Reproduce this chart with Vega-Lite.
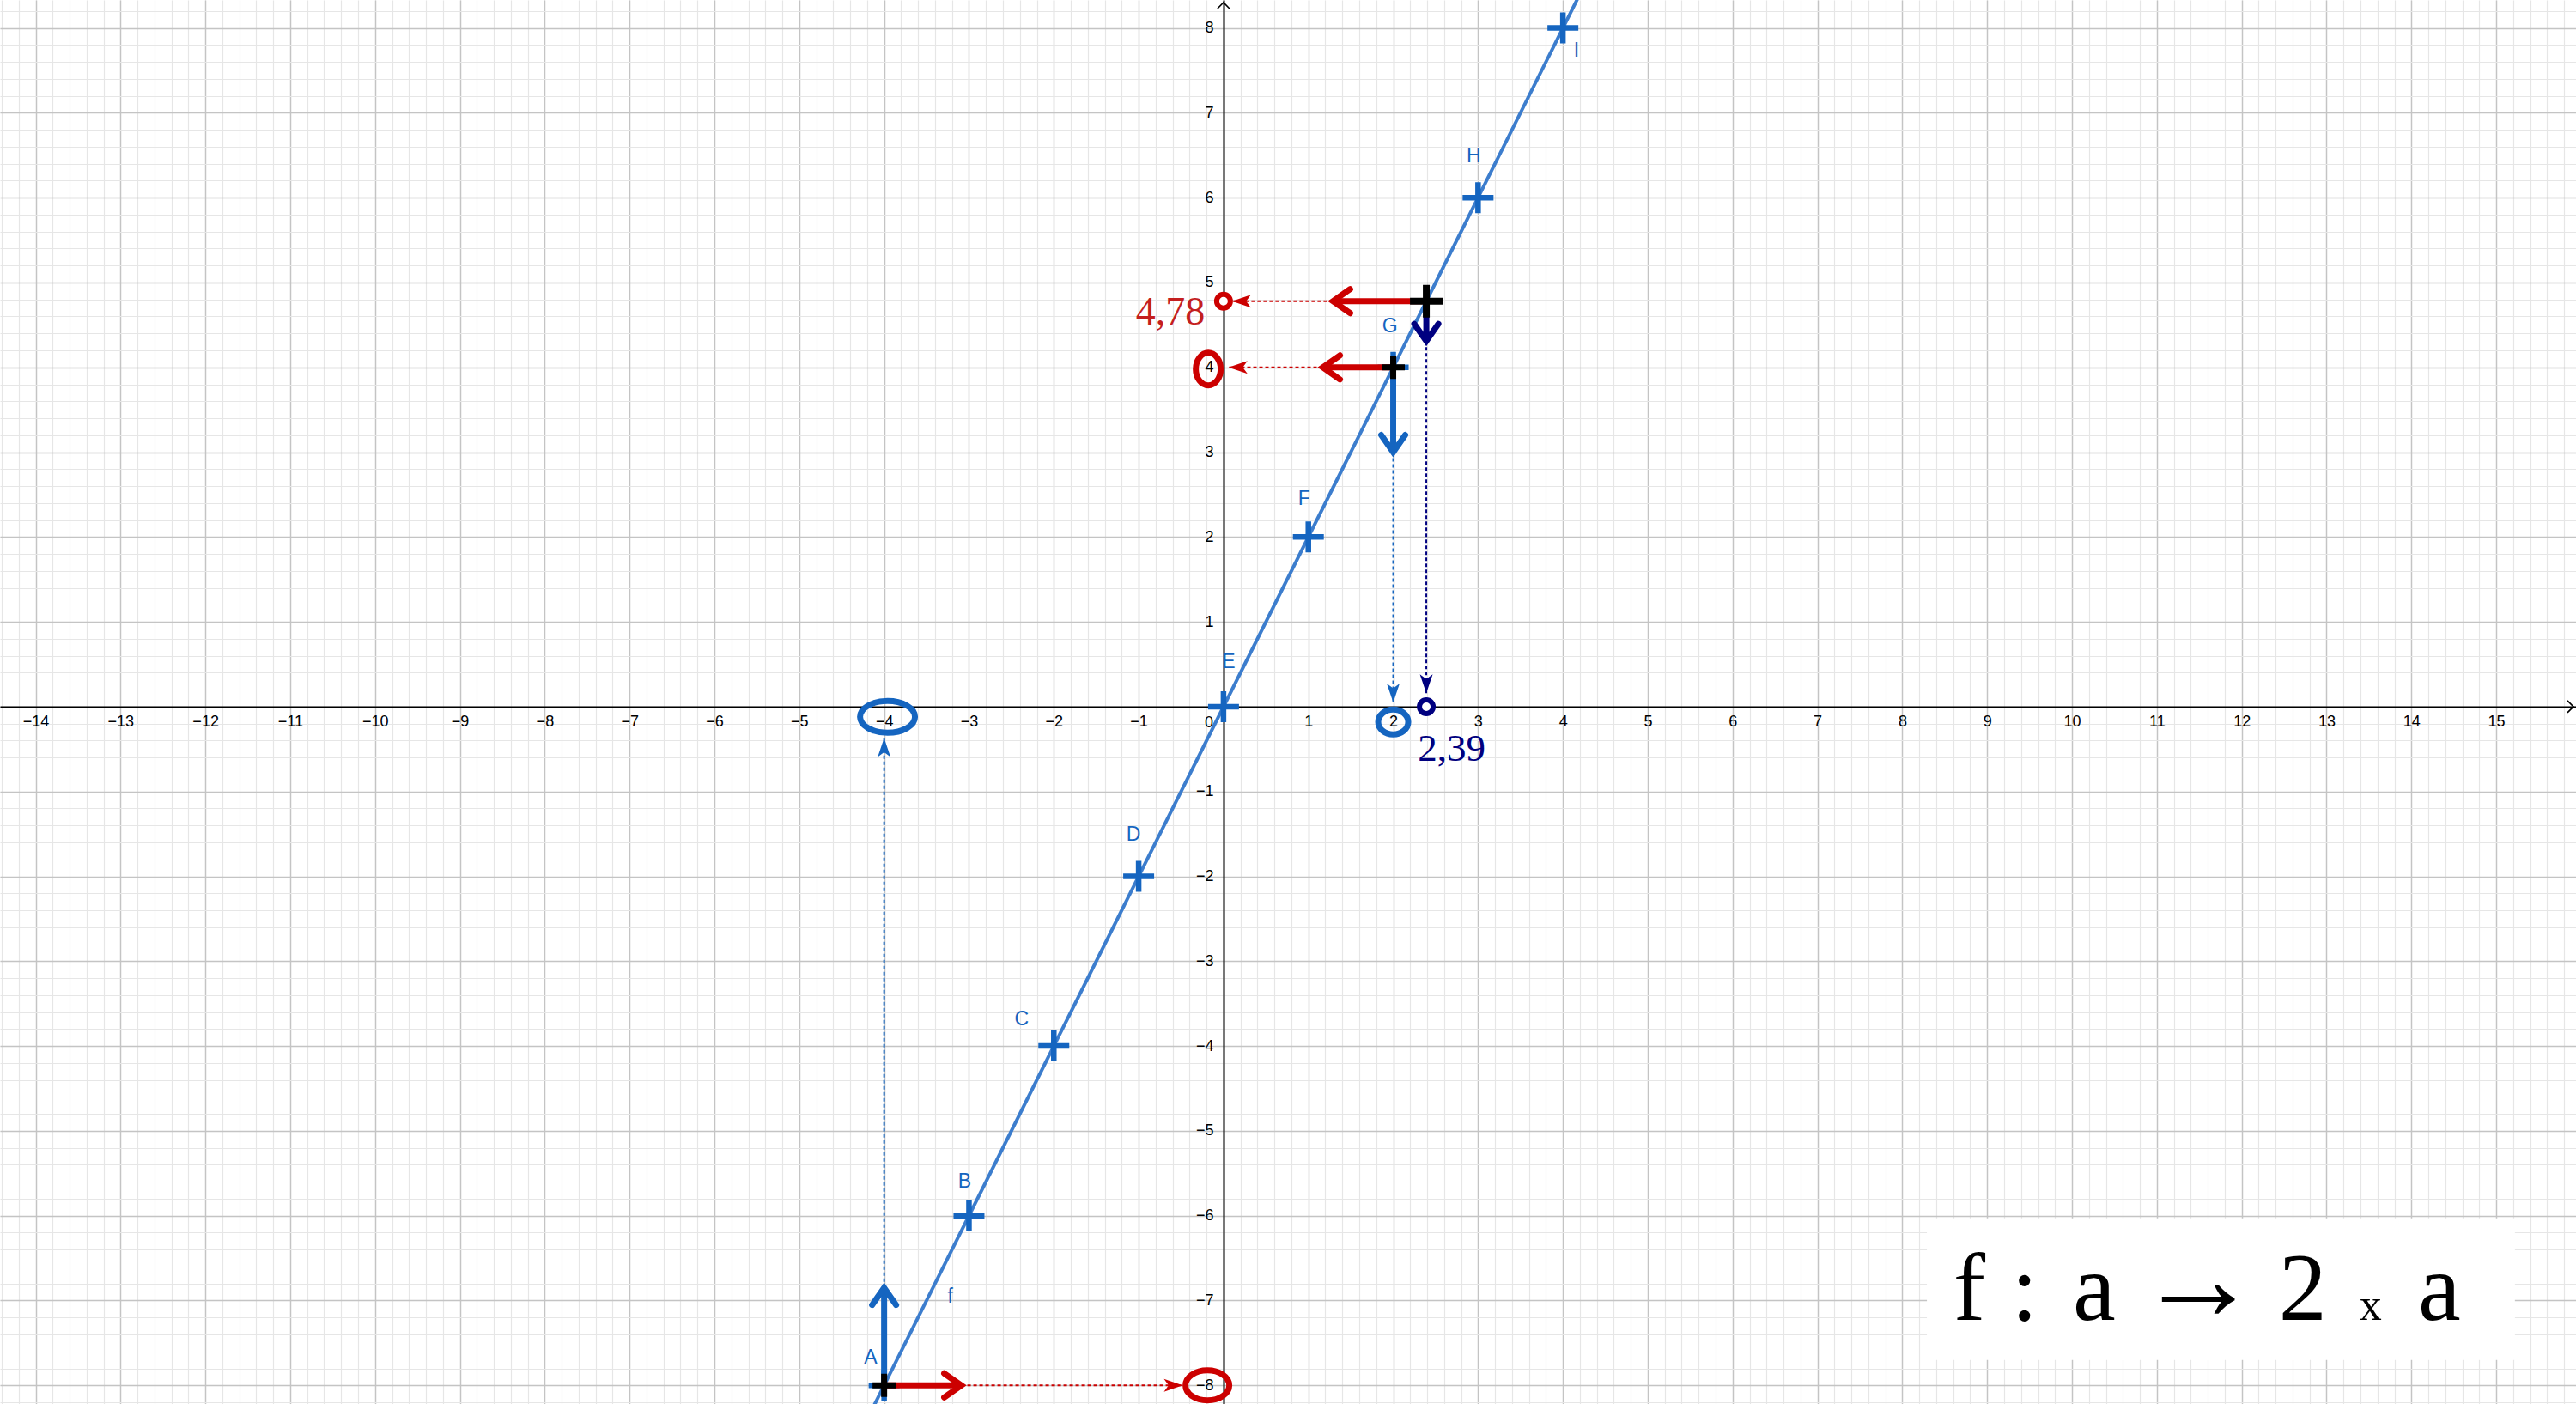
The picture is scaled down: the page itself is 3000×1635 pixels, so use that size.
{
  "$schema": "https://vega.github.io/schema/vega-lite/v6.json",
  "width": 3000,
  "height": 1635,
  "autosize": {"type": "none"},
  "padding": 0,
  "background": "white",
  "config": {"view": {"stroke": null}},
  "datasets": {
    "box": [{"x": 8.29, "x2": 15.22, "y": -6.03, "y2": -7.7}],
    "fline": [{"x": -4.3, "y": -8.6}, {"x": 4.3, "y": 8.6}],
    "axistips": [{"x": 15.91, "y": 0, "dir": "right"}, {"x": 0, "y": 8.3, "dir": "up"}],
    "origin": [{"t": "0", "x": 0, "y": 0}],
    "points": [
      {"name": "A", "x": -4, "y": -8, "lx": -4.16, "ly": -7.67},
      {"name": "B", "x": -3, "y": -6, "lx": -3.05, "ly": -5.6},
      {"name": "C", "x": -2, "y": -4, "lx": -2.38, "ly": -3.69},
      {"name": "D", "x": -1, "y": -2, "lx": -1.06, "ly": -1.51},
      {"name": "E", "x": 0, "y": 0, "lx": 0.06, "ly": 0.53},
      {"name": "F", "x": 1, "y": 2, "lx": 0.95, "ly": 2.45},
      {"name": "G", "x": 2, "y": 4, "lx": 1.96, "ly": 4.48},
      {"name": "H", "x": 3, "y": 6, "lx": 2.95, "ly": 6.49},
      {"name": "I", "x": 4, "y": 8, "lx": 4.16, "ly": 7.73}
    ],
    "flabel": [{"name": "f", "x": -3.22, "y": -6.95}],
    "dotted": [
      {"x": -4, "y": -6.85, "x2": -4, "y2": -0.37, "role": "antecedent", "dir": "up"},
      {"x": -3.09, "y": -8, "x2": -0.48, "y2": -8, "role": "image", "dir": "right"},
      {"x": 1.17, "y": 4, "x2": 0.06, "y2": 4, "role": "image", "dir": "left"},
      {"x": 2, "y": 3.0, "x2": 2, "y2": 0.05, "role": "antecedent", "dir": "down"},
      {"x": 1.29, "y": 4.78, "x2": 0.1, "y2": 4.78, "role": "image", "dir": "left"},
      {"x": 2.39, "y": 4.31, "x2": 2.39, "y2": 0.16, "role": "lecture", "dir": "down"}
    ],
    "shafts": [
      {"x": -4, "y": -8, "x2": -4, "y2": -6.85, "role": "antecedent", "dir": "up"},
      {"x": -4, "y": -8, "x2": -3.09, "y2": -8, "role": "image", "dir": "right"},
      {"x": 2, "y": 4, "x2": 1.17, "y2": 4, "role": "image", "dir": "left"},
      {"x": 2, "y": 4, "x2": 2, "y2": 3.0, "role": "antecedent", "dir": "down"},
      {"x": 2.39, "y": 4.78, "x2": 1.29, "y2": 4.78, "role": "image", "dir": "left"},
      {"x": 2.39, "y": 4.78, "x2": 2.39, "y2": 4.31, "role": "lecture", "dir": "down"}
    ],
    "marked": [{"x": -4, "y": -8}, {"x": 2, "y": 4}],
    "pointP": [{"x": 2.39, "y": 4.78}],
    "ellipses": [
      {"k": "xa", "x": -3.96, "y": -0.12, "role": "antecedent"},
      {"k": "xg", "x": 2.0, "y": -0.18, "role": "antecedent"},
      {"k": "yg", "x": -0.18, "y": 3.98, "role": "image"},
      {"k": "ya", "x": -0.19, "y": -8.0, "role": "image"}
    ],
    "rings": [
      {"x": 0, "y": 4.78, "role": "image"},
      {"x": 2.39, "y": 0, "role": "lecture"}
    ],
    "valY": [{"text": "4,78", "x": -0.22, "y": 4.5}],
    "valX": [{"text": "2,39", "x": 2.29, "y": -0.64}],
    "formulaBig": [
      {"t": "f", "x": 8.79, "y": -7.23},
      {"t": ":", "x": 9.44, "y": -7.23},
      {"t": "a", "x": 10.26, "y": -7.23},
      {"t": "2", "x": 12.72, "y": -7.23},
      {"t": "a", "x": 14.33, "y": -7.23}
    ],
    "formulaArrow": [{"t": "→", "x": 11.49, "y": -7.23}],
    "formulaSmall": [{"t": "x", "x": 13.52, "y": -7.23}]
  },
  "layer": [
    {
      "data": {"name": "box"},
      "mark": {"type": "rect", "fill": "white"},
      "encoding": {
        "x": {"field": "x", "type": "quantitative", "scale": {"domain": [-14.42, 15.94], "nice": false, "zero": false},
          "axis": {"orient": "bottom", "tickCount": 150, "grid": true, "gridColor": "#e6e6e6", "gridWidth": 1.2, "labels": false, "ticks": false, "domain": false, "title": null}},
        "x2": {"field": "x2"},
        "y": {"field": "y", "type": "quantitative", "scale": {"domain": [-8.22, 8.33], "nice": false, "zero": false},
          "axis": {"orient": "left", "tickCount": 83, "grid": true, "gridColor": "#e6e6e6", "gridWidth": 1.2, "labels": false, "ticks": false, "domain": false, "title": null}},
        "y2": {"field": "y2"}
      }
    },
    {
      "data": {"name": "fline"},
      "mark": {"type": "line", "color": "#3c7dcd", "strokeWidth": 4, "clip": true},
      "encoding": {
        "x": {"field": "x", "type": "quantitative", "scale": {"domain": [-14.42, 15.94], "nice": false, "zero": false},
          "axis": {"orient": "bottom", "values": [-14,-13,-12,-11,-10,-9,-8,-7,-6,-5,-4,-3,-2,-1,0,1,2,3,4,5,6,7,8,9,10,11,12,13,14,15], "grid": true, "gridColor": "#c4c4c4", "gridWidth": 1.4, "labels": false, "ticks": false, "domain": false, "title": null}},
        "y": {"field": "y", "type": "quantitative", "scale": {"domain": [-8.22, 8.33], "nice": false, "zero": false},
          "axis": {"orient": "left", "values": [-8,-7,-6,-5,-4,-3,-2,-1,0,1,2,3,4,5,6,7,8], "grid": true, "gridColor": "#c4c4c4", "gridWidth": 1.4, "labels": false, "ticks": false, "domain": false, "title": null}}
      }
    },
    {
      "data": {"name": "axistips"},
      "mark": {"type": "point", "filled": false, "stroke": "black", "strokeWidth": 1.6, "size": 196, "opacity": 1},
      "encoding": {
        "x": {"field": "x", "type": "quantitative", "scale": {"domain": [-14.42, 15.94], "nice": false, "zero": false},
          "axis": {"orient": "bottom", "offset": -812, "values": [-14,-13,-12,-11,-10,-9,-8,-7,-6,-5,-4,-3,-2,-1,1,2,3,4,5,6,7,8,9,10,11,12,13,14,15], "grid": false, "ticks": false, "tickSize": 0, "domain": true, "domainColor": "#000000", "domainWidth": 2, "labelFont": "Liberation Sans", "labelFontSize": 18, "labelColor": "#000000", "labelPadding": 8, "labelOverlap": false, "labelFlush": false, "title": null}},
        "y": {"field": "y", "type": "quantitative", "scale": {"domain": [-8.22, 8.33], "nice": false, "zero": false},
          "axis": {"orient": "left", "offset": -1425, "values": [-8,-7,-6,-5,-4,-3,-2,-1,1,2,3,4,5,6,7,8], "grid": false, "ticks": false, "tickSize": 0, "domain": true, "domainColor": "#000000", "domainWidth": 2, "labelFont": "Liberation Sans", "labelFontSize": 18, "labelColor": "#000000", "labelPadding": 12, "labelOverlap": false, "labelFlush": false, "title": null}},
        "shape": {"field": "dir", "type": "nominal", "legend": null,
          "scale": {"domain": ["right", "up"], "range": ["M -1 -1 L 0 0 L -1 1", "M -1 1 L 0 0 L 1 1"]}}
      }
    },
    {
      "data": {"name": "origin"},
      "mark": {"type": "text", "font": "Liberation Sans", "fontSize": 18, "fill": "#000000", "align": "center", "baseline": "middle", "dx": -17, "dy": 19},
      "encoding": {
        "x": {"field": "x", "type": "quantitative", "scale": {"domain": [-14.42, 15.94], "nice": false, "zero": false}, "axis": null},
        "y": {"field": "y", "type": "quantitative", "scale": {"domain": [-8.22, 8.33], "nice": false, "zero": false}, "axis": null},
        "text": {"field": "t"}
      }
    },
    {
      "data": {"name": "dotted"},
      "mark": {"type": "rule", "strokeWidth": 2, "strokeDash": [4, 3]},
      "encoding": {
        "x": {"field": "x", "type": "quantitative", "scale": {"domain": [-14.42, 15.94], "nice": false, "zero": false}, "axis": null},
        "y": {"field": "y", "type": "quantitative", "scale": {"domain": [-8.22, 8.33], "nice": false, "zero": false}, "axis": null},
        "x2": {"field": "x2"},
        "y2": {"field": "y2"},
        "color": {"field": "role", "type": "nominal", "legend": null,
          "scale": {"domain": ["antecedent", "image", "lecture"], "range": ["#1565c0", "#cc0000", "#000080"]}}
      }
    },
    {
      "data": {"name": "dotted"},
      "mark": {"type": "point", "filled": true, "size": 1936, "opacity": 1, "strokeWidth": 0},
      "encoding": {
        "x": {"field": "x2", "type": "quantitative", "scale": {"domain": [-14.42, 15.94], "nice": false, "zero": false}, "axis": null},
        "y": {"field": "y2", "type": "quantitative", "scale": {"domain": [-8.22, 8.33], "nice": false, "zero": false}, "axis": null},
        "color": {"field": "role", "type": "nominal", "legend": null,
          "scale": {"domain": ["antecedent", "image", "lecture"], "range": ["#1565c0", "#cc0000", "#000080"]}},
        "shape": {"field": "dir", "type": "nominal", "legend": null,
          "scale": {"domain": ["right", "down", "left", "up"],
            "range": ["M 0 0 L -1 -0.34 L -0.75 0 L -1 0.34 Z", "M 0 0 L -0.34 -1 L 0 -0.75 L 0.34 -1 Z", "M 0 0 L 1 -0.34 L 0.75 0 L 1 0.34 Z", "M 0 0 L -0.34 1 L 0 0.75 L 0.34 1 Z"]}}
      }
    },
    {
      "data": {"name": "points"},
      "mark": {"type": "point", "filled": false, "stroke": "#1565c0", "strokeWidth": 6.5, "size": 1296, "opacity": 1, "shape": "M -1 0 L 1 0 M 0 -1 L 0 1"},
      "encoding": {
        "x": {"field": "x", "type": "quantitative", "scale": {"domain": [-14.42, 15.94], "nice": false, "zero": false}, "axis": null},
        "y": {"field": "y", "type": "quantitative", "scale": {"domain": [-8.22, 8.33], "nice": false, "zero": false}, "axis": null}
      }
    },
    {
      "data": {"name": "shafts"},
      "mark": {"type": "rule", "strokeWidth": 7, "strokeCap": "butt"},
      "encoding": {
        "x": {"field": "x", "type": "quantitative", "scale": {"domain": [-14.42, 15.94], "nice": false, "zero": false}, "axis": null},
        "y": {"field": "y", "type": "quantitative", "scale": {"domain": [-8.22, 8.33], "nice": false, "zero": false}, "axis": null},
        "x2": {"field": "x2"},
        "y2": {"field": "y2"},
        "color": {"field": "role", "type": "nominal", "legend": null,
          "scale": {"domain": ["antecedent", "image", "lecture"], "range": ["#1565c0", "#cc0000", "#000080"]}}
      }
    },
    {
      "data": {"name": "shafts"},
      "mark": {"type": "point", "filled": false, "size": 1600, "opacity": 1, "strokeWidth": 7, "strokeCap": "round", "strokeJoin": "miter"},
      "encoding": {
        "x": {"field": "x2", "type": "quantitative", "scale": {"domain": [-14.42, 15.94], "nice": false, "zero": false}, "axis": null},
        "y": {"field": "y2", "type": "quantitative", "scale": {"domain": [-8.22, 8.33], "nice": false, "zero": false}, "axis": null},
        "color": {"field": "role", "type": "nominal", "legend": null,
          "scale": {"domain": ["antecedent", "image", "lecture"], "range": ["#1565c0", "#cc0000", "#000080"]}},
        "shape": {"field": "dir", "type": "nominal", "legend": null,
          "scale": {"domain": ["right", "down", "left", "up"],
            "range": ["M -1 -0.7 L 0 0 L -1 0.7", "M -0.7 -1 L 0 0 L 0.7 -1", "M 1 -0.7 L 0 0 L 1 0.7", "M -0.7 1 L 0 0 L 0.7 1"]}}
      }
    },
    {
      "data": {"name": "marked"},
      "mark": {"type": "point", "filled": false, "stroke": "#000000", "strokeWidth": 7, "size": 729, "opacity": 1, "shape": "M -1 0 L 1 0 M 0 -1 L 0 1"},
      "encoding": {
        "x": {"field": "x", "type": "quantitative", "scale": {"domain": [-14.42, 15.94], "nice": false, "zero": false}, "axis": null},
        "y": {"field": "y", "type": "quantitative", "scale": {"domain": [-8.22, 8.33], "nice": false, "zero": false}, "axis": null}
      }
    },
    {
      "data": {"name": "pointP"},
      "mark": {"type": "point", "filled": false, "stroke": "#000000", "strokeWidth": 8, "size": 1444, "opacity": 1, "shape": "M -1 0 L 1 0 M 0 -1 L 0 1"},
      "encoding": {
        "x": {"field": "x", "type": "quantitative", "scale": {"domain": [-14.42, 15.94], "nice": false, "zero": false}, "axis": null},
        "y": {"field": "y", "type": "quantitative", "scale": {"domain": [-8.22, 8.33], "nice": false, "zero": false}, "axis": null}
      }
    },
    {
      "data": {"name": "ellipses"},
      "mark": {"type": "point", "filled": false, "size": 400, "opacity": 1, "strokeWidth": 7},
      "encoding": {
        "x": {"field": "x", "type": "quantitative", "scale": {"domain": [-14.42, 15.94], "nice": false, "zero": false}, "axis": null},
        "y": {"field": "y", "type": "quantitative", "scale": {"domain": [-8.22, 8.33], "nice": false, "zero": false}, "axis": null},
        "color": {"field": "role", "type": "nominal", "legend": null,
          "scale": {"domain": ["antecedent", "image", "lecture"], "range": ["#1565c0", "#cc0000", "#000080"]}},
        "shape": {"field": "k", "type": "nominal", "legend": null,
          "scale": {"domain": ["xa", "xg", "yg", "ya"],
            "range": [
              "M -3.2 0 C -3.2 -1.02 -1.77 -1.85 0 -1.85 C 1.77 -1.85 3.2 -1.02 3.2 0 C 3.2 1.02 1.77 1.85 0 1.85 C -1.77 1.85 -3.2 1.02 -3.2 0 Z",
              "M -1.75 0 C -1.75 -0.8 -0.97 -1.45 0 -1.45 C 0.97 -1.45 1.75 -0.8 1.75 0 C 1.75 0.8 0.97 1.45 0 1.45 C -0.97 1.45 -1.75 0.8 -1.75 0 Z",
              "M -1.45 0 C -1.45 -1.05 -0.8 -1.9 0 -1.9 C 0.8 -1.9 1.45 -1.05 1.45 0 C 1.45 1.05 0.8 1.9 0 1.9 C -0.8 1.9 -1.45 1.05 -1.45 0 Z",
              "M -2.55 0 C -2.55 -0.97 -1.41 -1.75 0 -1.75 C 1.41 -1.75 2.55 -0.97 2.55 0 C 2.55 0.97 1.41 1.75 0 1.75 C -1.41 1.75 -2.55 0.97 -2.55 0 Z"
            ]}}
      }
    },
    {
      "data": {"name": "rings"},
      "mark": {"type": "point", "shape": "circle", "filled": false, "fill": "white", "size": 256, "opacity": 1, "strokeWidth": 6},
      "encoding": {
        "x": {"field": "x", "type": "quantitative", "scale": {"domain": [-14.42, 15.94], "nice": false, "zero": false}, "axis": null},
        "y": {"field": "y", "type": "quantitative", "scale": {"domain": [-8.22, 8.33], "nice": false, "zero": false}, "axis": null},
        "color": {"field": "role", "type": "nominal", "legend": null,
          "scale": {"domain": ["antecedent", "image", "lecture"], "range": ["#1565c0", "#cc0000", "#000080"]}}
      }
    },
    {
      "data": {"name": "points"},
      "mark": {"type": "text", "font": "Liberation Sans", "fontSize": 23, "fill": "#1565c0", "align": "center", "baseline": "middle"},
      "encoding": {
        "x": {"field": "lx", "type": "quantitative", "scale": {"domain": [-14.42, 15.94], "nice": false, "zero": false}, "axis": null},
        "y": {"field": "ly", "type": "quantitative", "scale": {"domain": [-8.22, 8.33], "nice": false, "zero": false}, "axis": null},
        "text": {"field": "name"}
      }
    },
    {
      "data": {"name": "flabel"},
      "mark": {"type": "text", "font": "Liberation Sans", "fontSize": 23, "fill": "#1565c0", "align": "center", "baseline": "middle"},
      "encoding": {
        "x": {"field": "x", "type": "quantitative", "scale": {"domain": [-14.42, 15.94], "nice": false, "zero": false}, "axis": null},
        "y": {"field": "y", "type": "quantitative", "scale": {"domain": [-8.22, 8.33], "nice": false, "zero": false}, "axis": null},
        "text": {"field": "name"}
      }
    },
    {
      "data": {"name": "valY"},
      "mark": {"type": "text", "font": "Liberation Serif", "fontSize": 46, "fill": "#c41f1f", "align": "right", "baseline": "alphabetic"},
      "encoding": {
        "x": {"field": "x", "type": "quantitative", "scale": {"domain": [-14.42, 15.94], "nice": false, "zero": false}, "axis": null},
        "y": {"field": "y", "type": "quantitative", "scale": {"domain": [-8.22, 8.33], "nice": false, "zero": false}, "axis": null},
        "text": {"field": "text"}
      }
    },
    {
      "data": {"name": "valX"},
      "mark": {"type": "text", "font": "Liberation Serif", "fontSize": 45, "fill": "#00007f", "align": "left", "baseline": "alphabetic"},
      "encoding": {
        "x": {"field": "x", "type": "quantitative", "scale": {"domain": [-14.42, 15.94], "nice": false, "zero": false}, "axis": null},
        "y": {"field": "y", "type": "quantitative", "scale": {"domain": [-8.22, 8.33], "nice": false, "zero": false}, "axis": null},
        "text": {"field": "text"}
      }
    },
    {
      "data": {"name": "formulaBig"},
      "mark": {"type": "text", "font": "Liberation Serif", "fontSize": 112, "fill": "#000000", "align": "center", "baseline": "alphabetic"},
      "encoding": {
        "x": {"field": "x", "type": "quantitative", "scale": {"domain": [-14.42, 15.94], "nice": false, "zero": false}, "axis": null},
        "y": {"field": "y", "type": "quantitative", "scale": {"domain": [-8.22, 8.33], "nice": false, "zero": false}, "axis": null},
        "text": {"field": "t"}
      }
    },
    {
      "data": {"name": "formulaArrow"},
      "mark": {"type": "text", "font": "Liberation Serif", "fontSize": 143, "fill": "#000000", "align": "center", "baseline": "alphabetic"},
      "encoding": {
        "x": {"field": "x", "type": "quantitative", "scale": {"domain": [-14.42, 15.94], "nice": false, "zero": false}, "axis": null},
        "y": {"field": "y", "type": "quantitative", "scale": {"domain": [-8.22, 8.33], "nice": false, "zero": false}, "axis": null},
        "text": {"field": "t"}
      }
    },
    {
      "data": {"name": "formulaSmall"},
      "mark": {"type": "text", "font": "Liberation Serif", "fontSize": 52, "fill": "#000000", "align": "center", "baseline": "alphabetic"},
      "encoding": {
        "x": {"field": "x", "type": "quantitative", "scale": {"domain": [-14.42, 15.94], "nice": false, "zero": false}, "axis": null},
        "y": {"field": "y", "type": "quantitative", "scale": {"domain": [-8.22, 8.33], "nice": false, "zero": false}, "axis": null},
        "text": {"field": "t"}
      }
    }
  ],
  "resolve": {
    "axis": {"x": "independent", "y": "independent"},
    "scale": {"shape": "independent"}
  }
}
